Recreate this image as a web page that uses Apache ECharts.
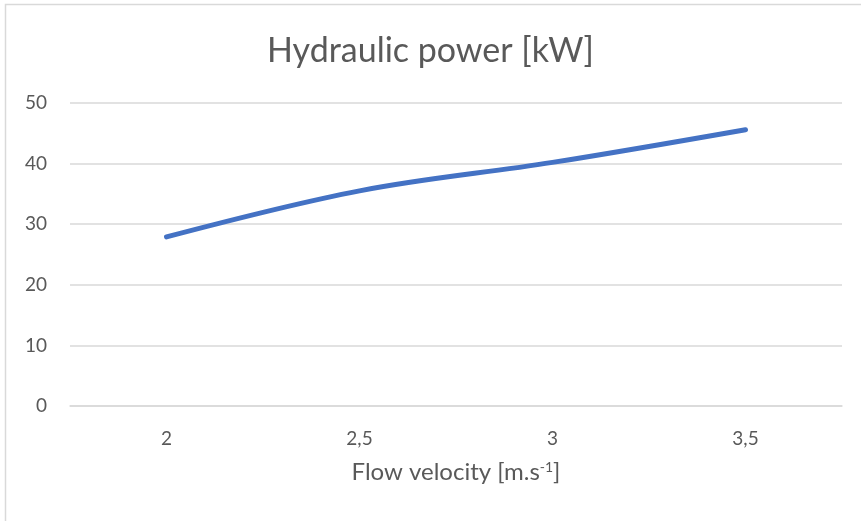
<!DOCTYPE html>
<html>
<head>
<meta charset="utf-8">
<script src="https://cdn.jsdelivr.net/npm/echarts@6/dist/echarts.min.js"></script>
<style>
  html, body { margin: 0; padding: 0; background: #fff; }
  #chart { width: 861px; height: 521px; }
</style>
</head>
<body>
<div id="chart"></div>
<script>
// data
const velocities = ['2', '2,5', '3', '3,5'];
const powerKW = [27.9, 35.5, 40.2, 45.6];
const yTicks = [0, 10, 20, 30, 40, 50];

const textColor = '#595959';
const font = 'Lato, "Open Sans", sans-serif';

const chart = echarts.init(document.getElementById('chart'));

const option = {
  backgroundColor: '#fff',
  animation: false,
  textStyle: { fontFamily: font },
  title: {
    text: 'Hydraulic power [kW]',
    left: 'center',
    top: 29,
    textStyle: { fontFamily: font, fontSize: 34, fontWeight: 'normal', color: textColor }
  },
  graphic: [
    {
      type: 'rect',
      shape: { x: 5.5, y: 4.5, width: 870, height: 530 },
      style: { fill: 'none', stroke: '#d9d9d9', lineWidth: 1.5 },
      silent: true
    }
  ],
  grid: {
    left: 70,
    right: 19,
    top: 103,
    bottom: 115
  },
  xAxis: {
    type: 'category',
    data: velocities,
    boundaryGap: true,
    axisTick: { show: false },
    axisLine: { lineStyle: { color: '#d9d9d9', width: 1.5 } },
    axisLabel: { color: textColor, fontSize: 19, margin: 23, fontFamily: font },
    name: '{n|Flow velocity [m.s}{s|-1}{n|]}',
    nameLocation: 'middle',
    nameGap: 54,
    nameTextStyle: {
      rich: {
        n: { fontSize: 24, color: textColor, fontFamily: font },
        s: { fontSize: 14, color: textColor, fontFamily: font, verticalAlign: 'top', padding: [0, 0, 10, 0] }
      }
    }
  },
  yAxis: {
    type: 'value',
    min: yTicks[0],
    max: yTicks[yTicks.length - 1],
    interval: 10,
    axisLine: { show: false },
    axisTick: { show: false },
    axisLabel: { color: textColor, fontSize: 19, margin: 23, fontFamily: font },
    splitLine: { lineStyle: { color: '#d9d9d9', width: 1.5 } }
  },
  series: [
    {
      type: 'line',
      data: powerKW,
      smooth: 0.35,
      symbol: 'none',
      lineStyle: { color: '#4472C4', width: 5, cap: 'round' }
    }
  ]
};

chart.setOption(option);
</script>
</body>
</html>
